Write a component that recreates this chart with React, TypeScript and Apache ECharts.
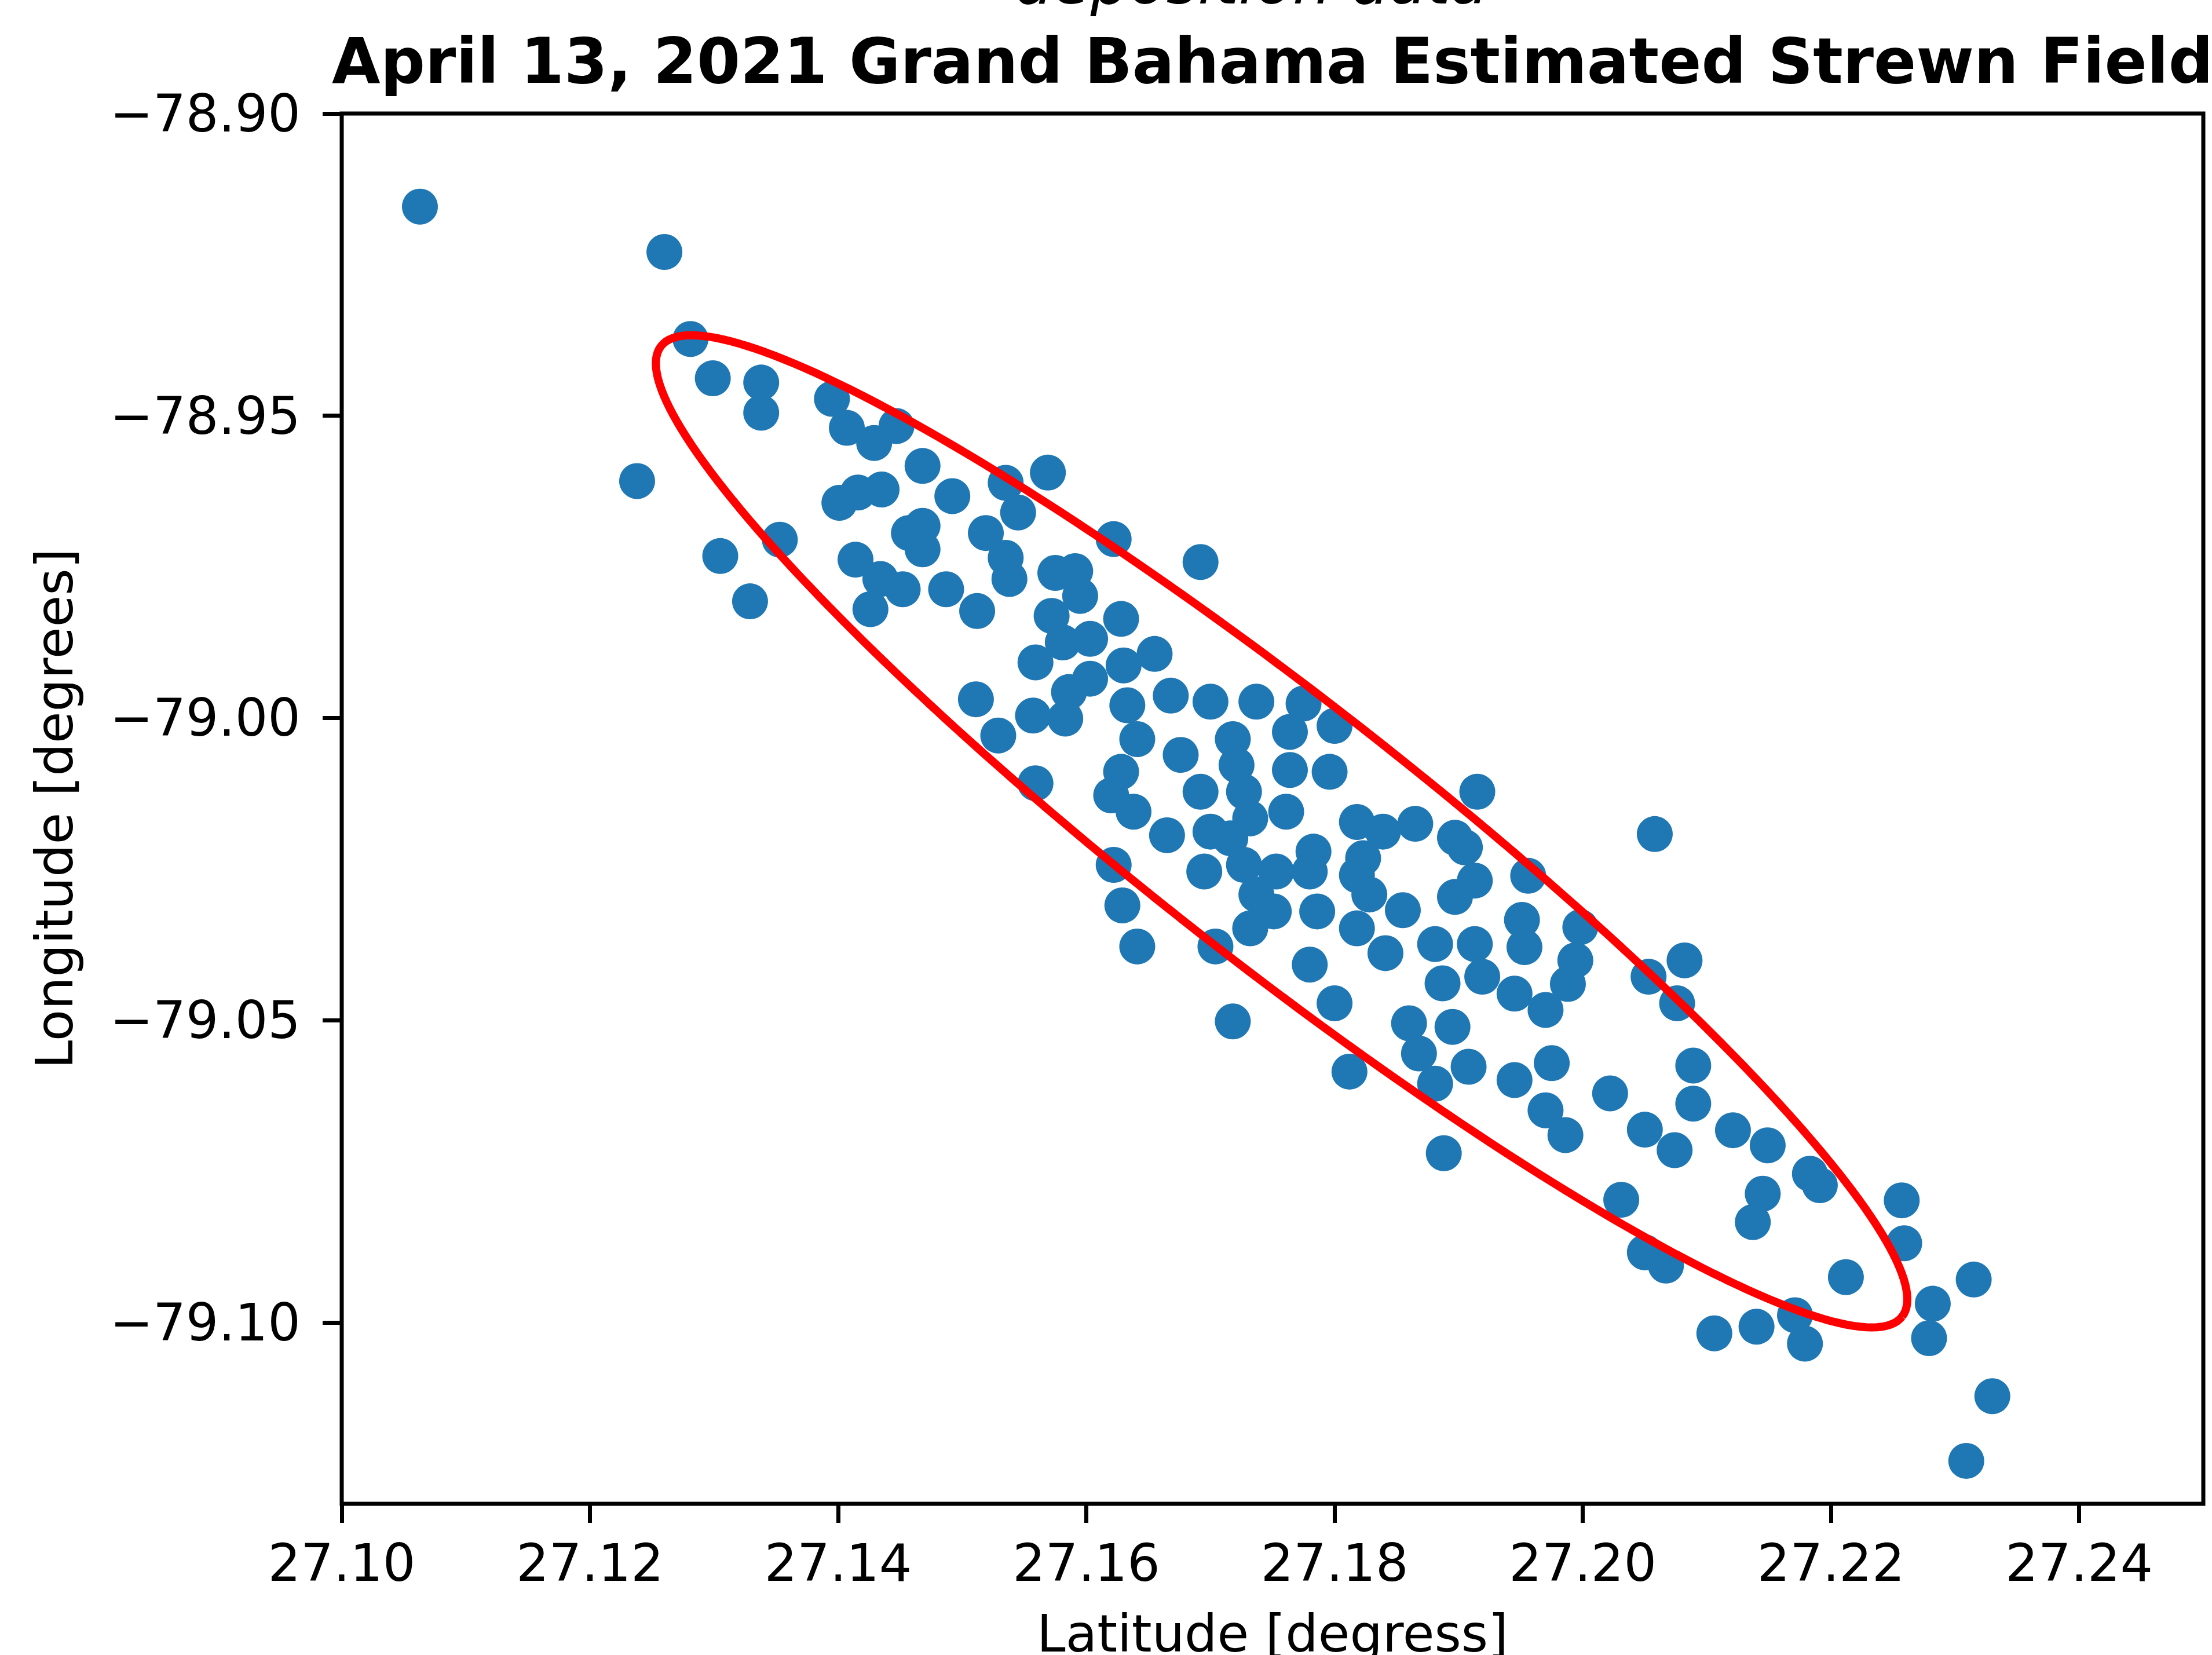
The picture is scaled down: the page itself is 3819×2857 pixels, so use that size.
import React, { useEffect, useRef } from "react";
import * as echarts from "echarts";

const latitude: number[] = [
  27.1063, 27.126, 27.1281, 27.1299, 27.1338, 27.1338, 27.1395, 27.1407, 27.1429, 27.1238, 27.1305, 27.1353, 27.1329, 27.1414, 27.1426,
  27.1447, 27.1468, 27.1535, 27.1569, 27.1545, 27.1401, 27.1416, 27.1435, 27.1492, 27.1468, 27.1468, 27.1457, 27.1434, 27.1452, 27.1487,
  27.1512, 27.1519, 27.1535, 27.1538, 27.1622, 27.1692, 27.1575, 27.1591, 27.1572, 27.1581, 27.1559, 27.1586, 27.1511, 27.1529, 27.1557,
  27.1583, 27.1559,
  27.1595, 27.1628, 27.1603, 27.1655, 27.163, 27.1603, 27.1633, 27.1668, 27.17, 27.1737, 27.1775, 27.18, 27.1764, 27.1718, 27.1641,
  27.1676, 27.1628, 27.162, 27.1638, 27.1721, 27.1727, 27.1764, 27.1796, 27.1692, 27.1761, 27.1665, 27.17, 27.1732, 27.1716, 27.1818,
  27.1839, 27.1915, 27.1695, 27.1727, 27.1753, 27.1783, 27.178, 27.1818, 27.1823, 27.1737, 27.1751, 27.1732, 27.1786, 27.178, 27.1818,
  27.1828, 27.1841, 27.1622, 27.1629, 27.1641, 27.1704, 27.1718, 27.18, 27.1812,
  27.2058, 27.1865, 27.1897, 27.1905, 27.1956, 27.1913, 27.1897, 27.1855, 27.1951, 27.1953, 27.1998, 27.1994, 27.1988, 27.197, 27.1945,
  27.1881, 27.1913, 27.1887, 27.1919, 27.186, 27.1895, 27.1868, 27.1908, 27.1881, 27.2082, 27.2053, 27.2076, 27.1975, 27.1945, 27.197,
  27.1986, 27.2022, 27.205, 27.2074, 27.2031, 27.205, 27.2067, 27.1888,
  27.2089, 27.2089, 27.2121, 27.2149, 27.2183, 27.2191, 27.2145, 27.2137, 27.2257, 27.2259, 27.2212, 27.2315, 27.2282, 27.2279, 27.2106,
  27.214, 27.2171, 27.2179, 27.233, 27.2309,
];

const longitude: number[] = [
  -78.9154, -78.9229, -78.9373, -78.9438, -78.9445, -78.9495, -78.9472, -78.952, -78.9545, -78.9608, -78.9732, -78.9705, -78.9807, -78.9738, -78.982,
  -78.9517, -78.9583, -78.9611, -78.9594, -78.966, -78.9644, -78.9627, -78.9622, -78.9633, -78.9682, -78.9721, -78.9694, -78.977, -78.9787, -78.9787,
  -78.9823, -78.9694, -78.9735, -78.977, -78.9704, -78.9742, -78.976, -78.9757, -78.9831, -78.9875, -78.9908, -78.9957, -78.9969, -79.0029, -78.9996,
  -79.0001, -79.0108,
  -78.9798, -78.9836, -78.9869, -78.9894, -78.9913, -78.9935, -78.9979, -78.9963, -78.9973, -78.9973, -78.9976, -79.0013, -79.0023, -79.0035, -79.0035,
  -79.0061, -79.0089, -79.0128, -79.0155, -79.0078, -79.0122, -79.0086, -79.0089, -79.0122, -79.0155, -79.0194, -79.0188, -79.0166, -79.0199, -79.0172,
  -79.0188, -79.0122, -79.0254, -79.0243, -79.0254, -79.0221, -79.0254, -79.026, -79.0232, -79.0292, -79.032, -79.0348, -79.032, -79.0408, -79.0348,
  -79.0292, -79.0389, -79.0243, -79.031, -79.0378, -79.0378, -79.0502, -79.0472, -79.0585,
  -79.0192, -79.0175, -79.0198, -79.0214, -79.0261, -79.0269, -79.0296, -79.0318, -79.0334, -79.0379, -79.0346, -79.0401, -79.044, -79.0483, -79.0456,
  -79.0374, -79.0374, -79.0439, -79.0428, -79.0505, -79.0511, -79.0555, -79.0577, -79.0605, -79.0401, -79.0428, -79.0472, -79.0571, -79.0599, -79.0649,
  -79.069, -79.0621, -79.0681, -79.0715, -79.0797, -79.0884, -79.0906, -79.072,
  -79.0575, -79.0638, -79.0682, -79.0707, -79.0754, -79.0773, -79.0787, -79.0834, -79.0798, -79.0869, -79.0925, -79.0929, -79.0969, -79.1026, -79.1018,
  -79.1007, -79.0988, -79.1035, -79.1122, -79.1229,
];

const xTicks: number[] = [27.1, 27.12, 27.14, 27.16, 27.18, 27.2, 27.22, 27.24];
const yTicks: number[] = [-78.9, -78.95, -79.0, -79.05, -79.1];

// Strewn-field ellipse: centre and two conjugate semi-axes, in data units
const ellipseCenter: number[] = [27.17573, -79.01875];
const ellipseAxisA: number[] = [0.05, -0.080274];
const ellipseAxisB: number[] = [-0.006485, -0.017063];

const titleText = "April 13, 2021 Grand Bahama Estimated Strewn Field";
const subTitleText = "deposition data";
const xName = "Latitude [degress]";
const yName = "Longitude [degrees]";

const FONT = "DejaVu Sans";

function fmt(v: number): string {
  const s = Math.abs(v).toFixed(2);
  return v < 0 ? "\u2212" + s : s;
}

export default function App() {
  const ref = useRef<HTMLDivElement>(null);
  useEffect(() => {
    if (!ref.current) return;
    const chart = echarts.init(ref.current, null, { renderer: "svg" });
    const points = latitude.map((x, i) => [x, longitude[i]]);
    const ellipse: number[][] = [];
    const N = 240;
    for (let i = 0; i <= N; i++) {
      const t = (2 * Math.PI * i) / N;
      ellipse.push([
        ellipseCenter[0] + ellipseAxisA[0] * Math.cos(t) + ellipseAxisB[0] * Math.sin(t),
        ellipseCenter[1] + ellipseAxisA[1] * Math.cos(t) + ellipseAxisB[1] * Math.sin(t),
      ]);
    }
    const left = 590, top = 196, width = 3214, height = 2400;
    chart.setOption({
      animation: false,
      backgroundColor: "#ffffff",
      textStyle: { fontFamily: FONT },
      grid: {
        left, top, width, height,
        show: true,
        borderColor: "#000000",
        borderWidth: 7,
        backgroundColor: "transparent",
      },
      xAxis: {
        type: "value",
        min: 27.1,
        max: 27.25,
        axisLine: { show: false },
        splitLine: { show: false },
        axisTick: {
          show: true,
          length: 33,
          lineStyle: { color: "#000", width: 7 },
          customValues: xTicks,
        },
        axisLabel: {
          customValues: xTicks,
          formatter: (v: number) => fmt(v),
          fontFamily: FONT,
          fontSize: 89,
          lineHeight: 89,
          color: "#000",
          margin: 57,
        },
      },
      yAxis: {
        type: "value",
        min: -79.13,
        max: -78.9,
        axisLine: { show: false },
        splitLine: { show: false },
        axisTick: {
          show: true,
          length: 33,
          lineStyle: { color: "#000", width: 7 },
          customValues: yTicks,
        },
        axisLabel: {
          customValues: yTicks,
          formatter: (v: number) => fmt(v),
          fontFamily: FONT,
          fontSize: 89,
          lineHeight: 89,
          color: "#000",
          margin: 71,
        },
      },
      graphic: [
        {
          type: "text",
          x: 2160,
          y: -30,
          style: {
            text: subTitleText,
            fontFamily: FONT,
            fontSize: 105,
            fontStyle: "italic",
            fill: "#000",
            textAlign: "center",
            textVerticalAlign: "middle",
          },
        },
        {
          type: "text",
          x: left + width / 2,
          y: 105,
          style: {
            text: titleText,
            fontFamily: FONT,
            fontSize: 108,
            fontWeight: "bold",
            fill: "#000",
            textAlign: "center",
            textVerticalAlign: "middle",
          },
        },
        {
          type: "text",
          x: left + width / 2,
          y: 2820,
          style: {
            text: xName,
            fontFamily: FONT,
            fontSize: 89,
            fill: "#000",
            textAlign: "center",
            textVerticalAlign: "middle",
          },
        },
        {
          type: "text",
          x: 94,
          y: top + height / 2,
          rotation: Math.PI / 2,
          style: {
            text: yName,
            fontFamily: FONT,
            fontSize: 89,
            fill: "#000",
            textAlign: "center",
            textVerticalAlign: "middle",
          },
        },
      ],
      series: [
        {
          type: "scatter",
          data: points,
          symbol: "circle",
          symbolSize: 62,
          itemStyle: { color: "#1f77b4", opacity: 1 },
          z: 2,
          silent: true,
        },
        {
          type: "line",
          data: ellipse,
          showSymbol: false,
          symbol: "none",
          smooth: false,
          lineStyle: { color: "#ff0000", width: 14 },
          z: 3,
          silent: true,
        },
      ],
    });
    return () => chart.dispose();
  }, []);
  return (
    <div
      ref={ref}
      style={{ position: "fixed", left: 0, top: 0, width: 3819, height: 2857 }}
    />
  );
}
